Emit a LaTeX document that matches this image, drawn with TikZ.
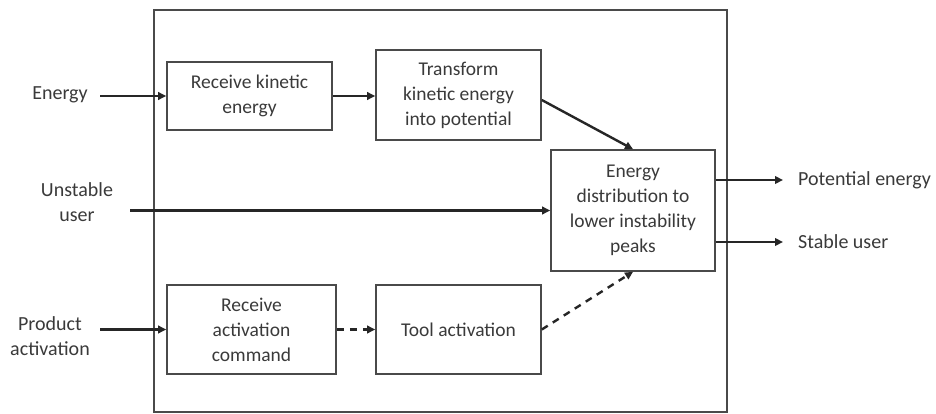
\documentclass[tikz,border=0pt]{standalone}
\usepackage{fontspec}
\setmainfont{Carlito}
\usetikzlibrary{arrows.meta,calc}
\definecolor{lin}{HTML}{4A4A4A}
\definecolor{txt}{HTML}{3A3A3A}
\begin{document}
\begin{tikzpicture}[x=1pt,y=-1pt,
  box/.style={draw=lin,line width=1.6pt,align=center,text=txt,font=\fontsize{19.5}{25}\selectfont,inner sep=2pt},
  lab/.style={align=center,text=txt,font=\fontsize{20}{25.5}\selectfont,inner sep=1pt},
  arr/.style={draw=black!85,line width=2.4pt,-{Triangle[length=8pt,width=7.5pt]}},
  darr/.style={arr,dash pattern=on 7pt off 6pt}]
\fill[white] (0,0) rectangle (936,414);
\useasboundingbox (0,0) rectangle (936,414);
\node[draw=lin,line width=1.6pt,minimum width=573pt,minimum height=402pt,inner sep=0pt] (frame) at (440.5,211) {};
\node[box,minimum width=165pt,minimum height=68pt] (b1) at (249.5,96) {Receive kinetic\\energy};
\node[box,minimum width=165pt,minimum height=90pt] (b2) at (458.5,95) {Transform\\kinetic energy\\into potential};
\node[box,minimum width=164pt,minimum height=121pt] (b3) at (633,210.5) {Energy\\distribution to\\lower instability\\peaks};
\node[box,minimum width=169pt,minimum height=89pt] (b4) at (251.5,329.5) {Receive\\activation\\command};
\node[box,minimum width=165pt,minimum height=89pt] (b5) at (458.5,329.5) {Tool activation};
\node[lab] (energy) at (60,95) {Energy};
\node[lab] (unst) at (77,202) {Unstable\\user};
\node[lab] (prod) at (50,336) {Product\\activation};
\node[lab,anchor=west] (pe) at (797,180) {Potential energy};
\node[lab,anchor=west] (su) at (797,242) {Stable user};
\coordinate (us) at (130,210.5);
\draw[arr] (b1.west -| 100,0) -- (b1.west);
\draw[arr] (b1.east) -- (b2.west |- b1.east);
\draw[arr] ([yshift=-5pt]b2.east) -- (b3.north);
\draw[arr] (us) -- (b3.west);
\draw[arr] (pe.west -| b3.east) -- ([xshift=-14pt]pe.west);
\draw[arr] (su.west -| b3.east) -- ([xshift=-14pt]su.west);
\draw[arr] (b4.west -| 100,0) -- (b4.west);
\draw[darr] (b4.east) -- (b5.west);
\draw[darr] (b5.east) -- (b3.south);
\end{tikzpicture}
\end{document}
